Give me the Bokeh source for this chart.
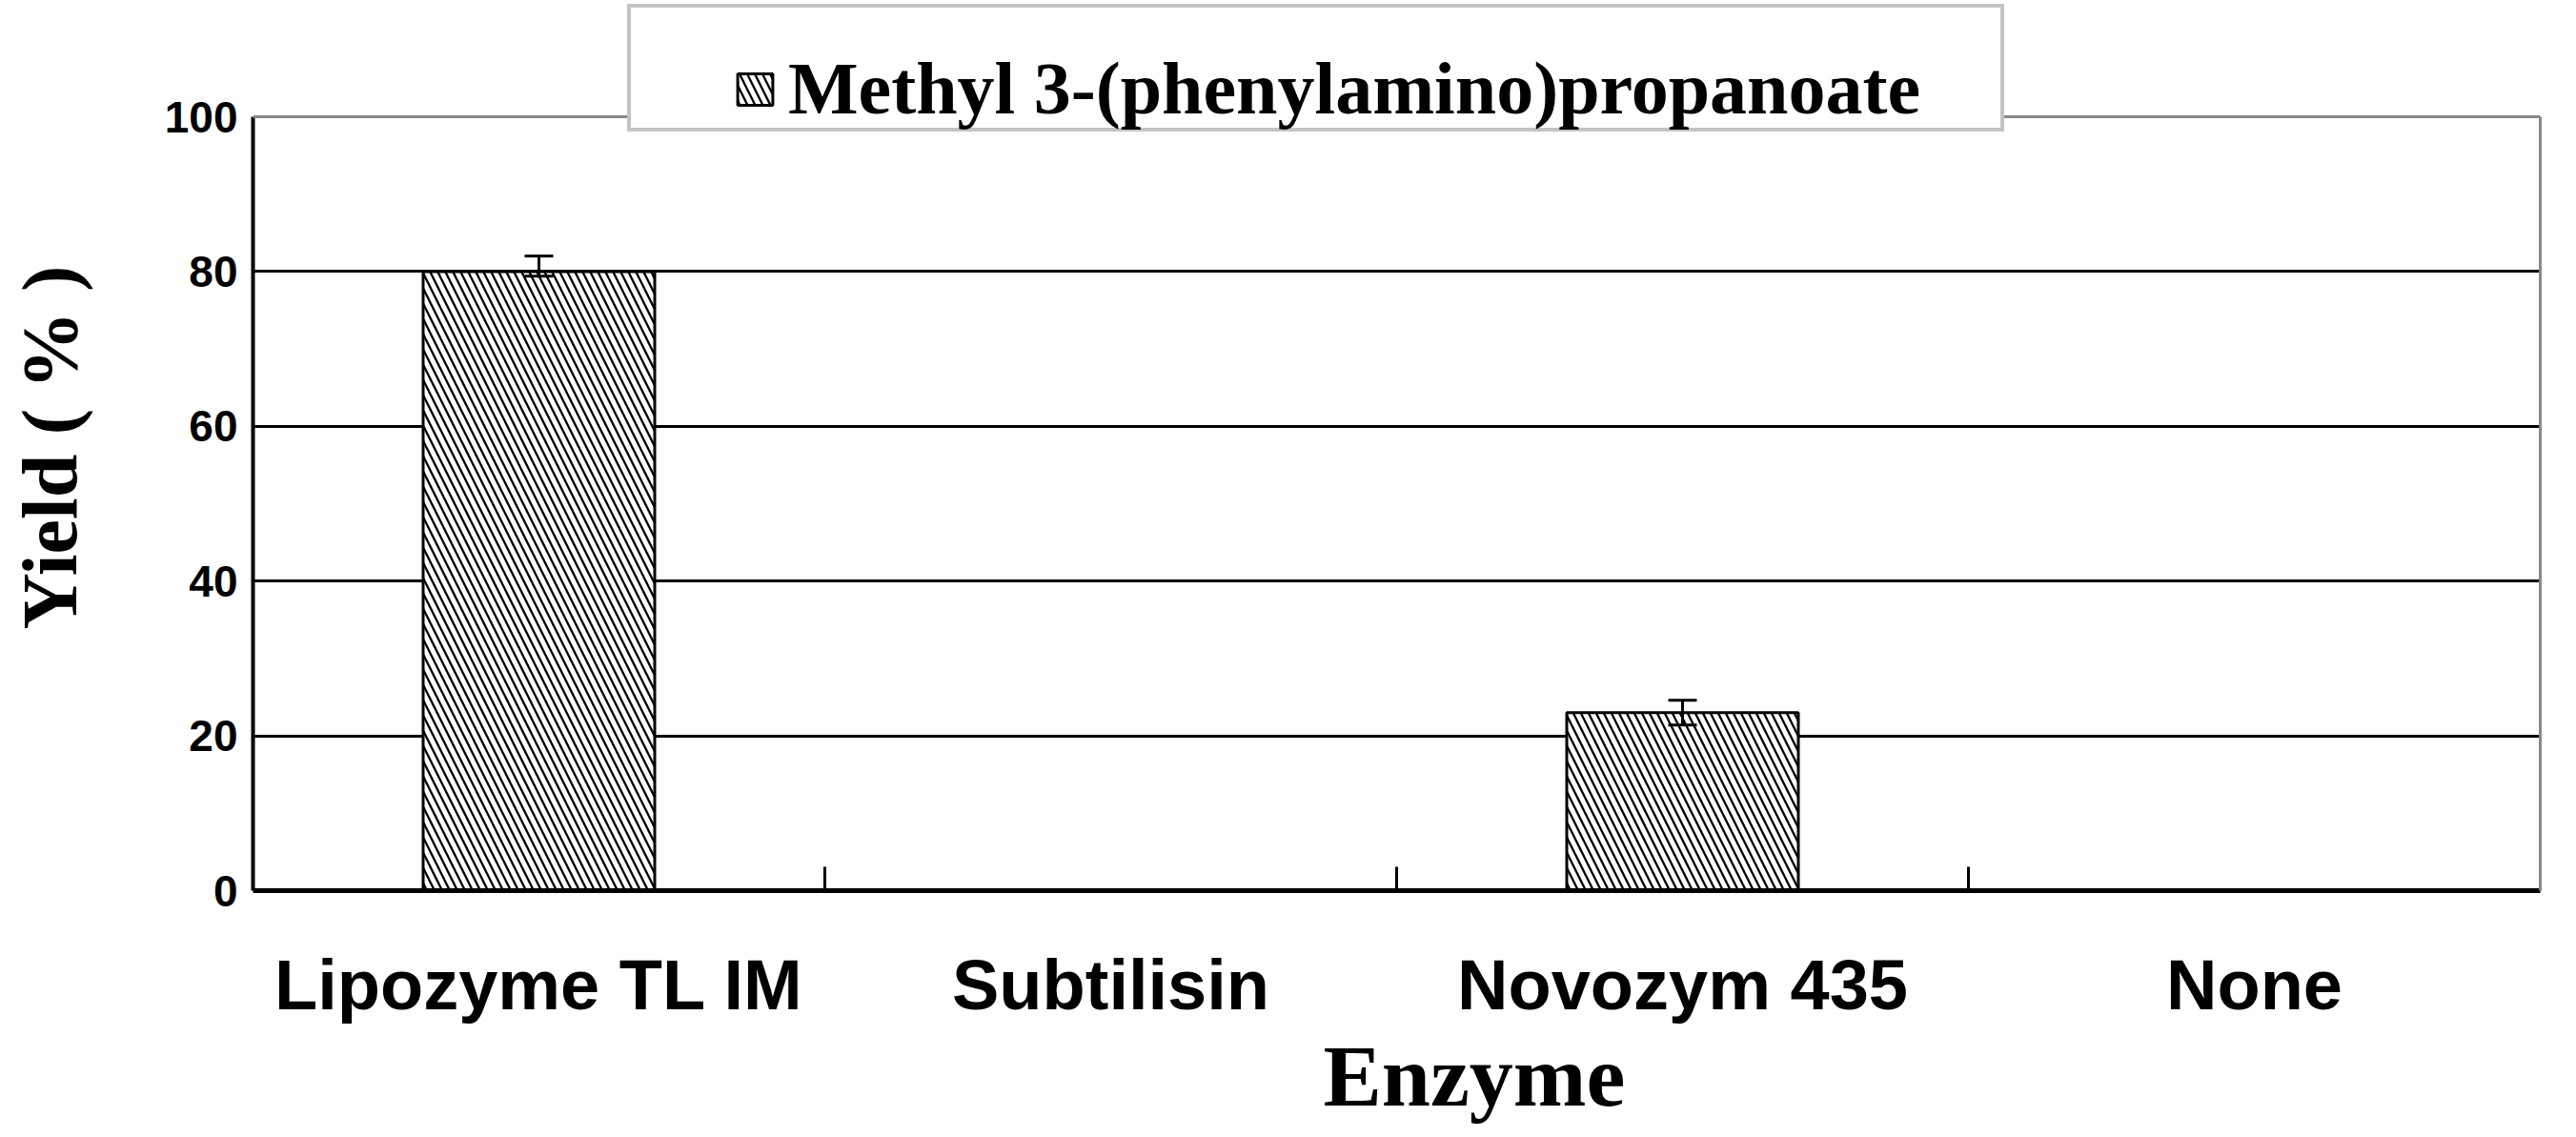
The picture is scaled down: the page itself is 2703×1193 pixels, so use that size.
from bokeh.plotting import figure
from bokeh.models import (ColumnDataSource, Range1d, FixedTicker, Whisker, TeeHead,
                          Legend, LegendItem, Title, Span, LinearAxis)
from bokeh.embed import file_html
from bokeh.resources import INLINE

# ---- data ----
categories = ["Lipozyme TL IM", "Subtilisin", "Novozym 435", "None"]
yield_pct = [80.0, 0.0, 23.0, 0.0]
err_upper = [2.0, 0.0, 1.6, 0.0]
err_lower = [0.6, 0.0, 1.6, 0.0]
y_ticks = [0, 20, 40, 60, 80, 100]
series_name = "Methyl 3-(phenylamino)propanoate"
x_title = "Enzyme"
y_title = "Yield ( % )"

xpos = [i + 0.5 for i in range(len(categories))]
src = ColumnDataSource(dict(x=xpos, top=yield_pct, cat=categories))
err_idx = [i for i in range(len(categories)) if err_upper[i] > 0 or err_lower[i] > 0]
err_src = ColumnDataSource(dict(
    base=[xpos[i] for i in err_idx],
    upper=[yield_pct[i] + err_upper[i] for i in err_idx],
    lower=[yield_pct[i] - err_lower[i] for i in err_idx],
))

y_max = y_ticks[-1]
# the frame reaches above the 100 line so that the legend box (which overlaps
# the top border in the original) is drawn inside it
p = figure(frame_width=2400, frame_height=930,
           x_range=Range1d(0, len(categories)), y_range=Range1d(0, y_max * 930 / 812),
           output_backend="svg", toolbar_location=None,
           min_border_left=265, min_border_right=36,
           min_border_top=4, min_border_bottom=256,
           background_fill_color="white", border_fill_color="white",
           outline_line_color=None)

bars = p.vbar(x="x", top="top", width=0.405, source=src,
              fill_color="white", line_color="black", line_width=3,
              hatch_pattern="left_diagonal_line", hatch_color="black",
              hatch_weight=2.3, hatch_scale=16)

# invisible renderer used only for the legend frame
frame_r = p.vbar(x="x", top="top", width=0.405, source=src,
                 fill_alpha=0, line_alpha=0)

wh = Whisker(base="base", upper="upper", lower="lower", source=err_src,
             line_color="black", line_width=3, level="overlay",
             upper_head=TeeHead(size=30, line_width=3, line_color="black"),
             lower_head=TeeHead(size=30, line_width=3, line_color="black"))
p.add_layout(wh)

# plot-area top border (gray)
p.add_layout(Span(location=y_max, dimension="width", line_color="#888888", line_width=3))

# x axis
p.xaxis.ticker = FixedTicker(ticks=xpos, minor_ticks=[1, 2, 3, 4])
p.xaxis.major_label_overrides = {x: c for x, c in zip(xpos, categories)}
p.xaxis.major_tick_line_color = None
p.xaxis.major_tick_in = 0
p.xaxis.major_tick_out = 0
p.xaxis.minor_tick_in = 25
p.xaxis.minor_tick_out = 0
p.xaxis.minor_tick_line_width = 3
p.xaxis.minor_tick_line_color = "black"
p.xaxis.axis_line_width = 5
p.xaxis.axis_line_color = "black"
p.xaxis.major_label_text_font = "Liberation Sans"
p.xaxis.major_label_text_font_style = "bold"
p.xaxis.major_label_text_font_size = "74px"
p.xaxis.major_label_text_color = "black"
p.xaxis.major_label_standoff = 57
p.xgrid.visible = False

# y axis (labels + title); its line is drawn by a bounded axis next to the frame
main_y = p.yaxis[0]
main_y.ticker = FixedTicker(ticks=y_ticks)
main_y.axis_line_color = None
main_y.major_tick_line_color = None
main_y.minor_tick_line_color = None
main_y.major_tick_in = 0
main_y.major_tick_out = 0
main_y.major_label_text_font = "Liberation Sans"
main_y.major_label_text_font_style = "bold"
main_y.major_label_text_font_size = "46px"
main_y.major_label_text_color = "black"
main_y.major_label_standoff = 16
main_y.axis_label = y_title
main_y.axis_label_text_font = "Liberation Serif"
main_y.axis_label_text_font_style = "bold"
main_y.axis_label_text_font_size = "82px"
main_y.axis_label_text_color = "black"
main_y.axis_label_standoff = 72

line_y = LinearAxis(bounds=(0, y_max), ticker=FixedTicker(ticks=[]),
                    axis_line_color="black", axis_line_width=4,
                    major_tick_line_color=None, minor_tick_line_color=None,
                    major_tick_in=0, major_tick_out=0,
                    minor_tick_in=0, minor_tick_out=0,
                    major_label_text_font_size="0px")
p.left = [line_y, main_y]

p.ygrid.ticker = FixedTicker(ticks=[20, 40, 60, 80])
p.ygrid.grid_line_color = "black"
p.ygrid.grid_line_width = 3

# right border (gray), limited to the 0-100 span
rax = LinearAxis(bounds=(0, y_max), ticker=FixedTicker(ticks=[]),
                 axis_line_color="#888888", axis_line_width=3,
                 major_tick_line_color=None, minor_tick_line_color=None,
                 major_tick_in=0, major_tick_out=0,
                 major_label_text_font_size="0px")
p.add_layout(rax, "right")

# x axis title
p.add_layout(Title(text=x_title, align="left", offset=1123,
                   vertical_align="top", standoff=0,
                   text_font="Liberation Serif", text_font_style="bold",
                   text_font_size="92px", text_color="black"), "below")

# legend box (frame only)
legend_box = Legend(items=[LegendItem(label="", renderers=[frame_r])],
                    location=(393, 796), margin=0, padding=20, spacing=0,
                    glyph_width=46, glyph_height=41, label_standoff=12,
                    label_height=86, label_width=1339,
                    label_text_font="Liberation Serif", label_text_font_size="78px",
                    border_line_color="#888888", border_line_width=4,
                    background_fill_color="white", background_fill_alpha=1.0)
p.add_layout(legend_box)

# legend content
legend = Legend(items=[LegendItem(label=series_name, renderers=[bars])],
                location=(504, 796), margin=0, padding=20, spacing=0,
                glyph_width=46, glyph_height=41, label_standoff=12,
                label_height=86,
                label_text_font="Liberation Serif", label_text_font_style="bold",
                label_text_font_size="78px", label_text_color="black",
                border_line_color=None, background_fill_alpha=0.0)
p.add_layout(legend)

open("out.html", "w").write(file_html(p, INLINE))
